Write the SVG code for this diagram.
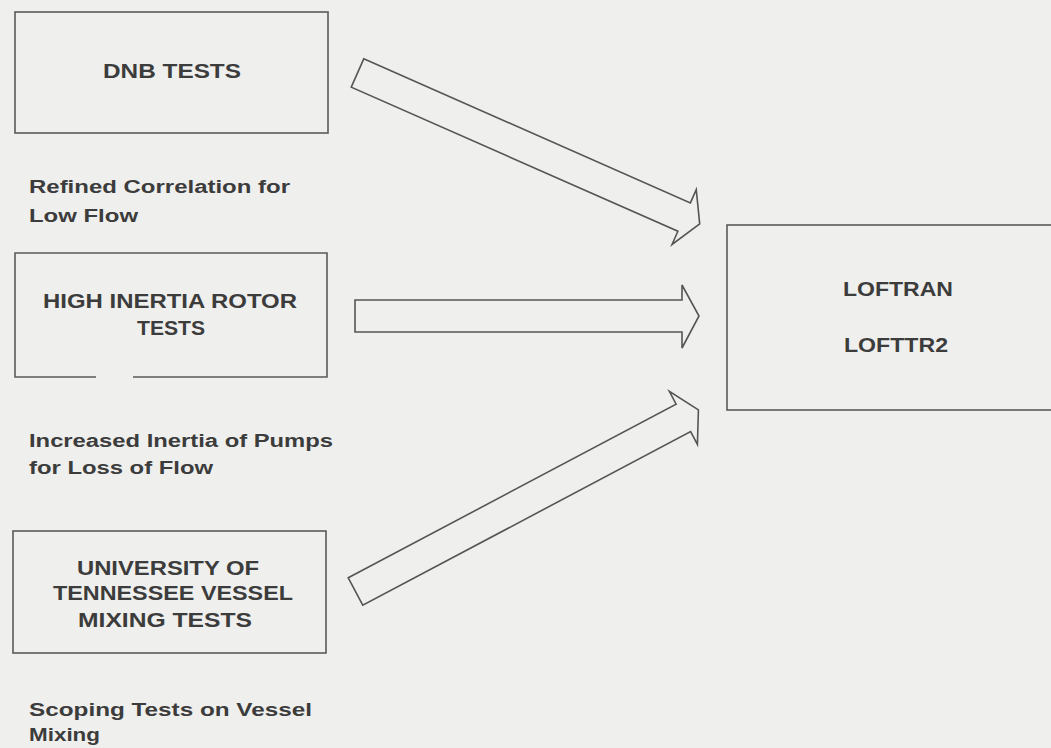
<svg xmlns="http://www.w3.org/2000/svg" width="1051" height="748" viewBox="0 0 1051 748">
  <style>
    .box { fill: none; stroke: #5a5a5a; stroke-width: 1.6; }
    .arrow { fill: #efefed; stroke: #555555; stroke-width: 1.6; stroke-linejoin: miter; }
    .head { font-family: "Liberation Sans", Arial, sans-serif; font-weight: bold; font-size: 21px; fill: #3c3c3c; }
    .note { font-family: "Liberation Sans", Arial, sans-serif; font-weight: bold; font-size: 18px; fill: #3c3c3c; }
  </style>

  <rect x="0" y="0" width="1051" height="748" fill="#efefed"/>

  <g id="dnb-tests">
    <rect class="box" x="15" y="12" width="313" height="121"/>
    <text class="head" x="103" y="78" textLength="138" lengthAdjust="spacingAndGlyphs">DNB TESTS</text>
  </g>
  <g id="dnb-note">
    <text class="note" x="29" y="193" textLength="261" lengthAdjust="spacingAndGlyphs">Refined Correlation for</text>
    <text class="note" x="29" y="222" textLength="109" lengthAdjust="spacingAndGlyphs">Low Flow</text>
  </g>

  <g id="rotor-tests">
    <!-- bottom edge is broken under the text -->
    <path class="box" d="M96,377 H15 V253 H327 V377 H133"/>
    <text class="head" x="43" y="308" textLength="254" lengthAdjust="spacingAndGlyphs">HIGH INERTIA ROTOR</text>
    <text class="head" x="137" y="335" textLength="68" lengthAdjust="spacingAndGlyphs">TESTS</text>
  </g>
  <g id="rotor-note">
    <text class="note" x="29" y="447" textLength="304" lengthAdjust="spacingAndGlyphs">Increased Inertia of Pumps</text>
    <text class="note" x="29" y="474" textLength="184" lengthAdjust="spacingAndGlyphs">for Loss of Flow</text>
  </g>

  <g id="mixing-tests">
    <rect class="box" x="13" y="531" width="313" height="122"/>
    <text class="head" x="77" y="575" textLength="182" lengthAdjust="spacingAndGlyphs">UNIVERSITY OF</text>
    <text class="head" x="53" y="600" textLength="240" lengthAdjust="spacingAndGlyphs">TENNESSEE VESSEL</text>
    <text class="head" x="78" y="627" textLength="174" lengthAdjust="spacingAndGlyphs">MIXING TESTS</text>
  </g>
  <g id="mixing-note">
    <text class="note" x="29" y="716" textLength="283" lengthAdjust="spacingAndGlyphs">Scoping Tests on Vessel</text>
    <text class="note" x="29" y="741" textLength="71" lengthAdjust="spacingAndGlyphs">Mixing</text>
  </g>

  <g id="loftran">
    <rect class="box" x="727" y="225" width="340" height="185"/>
    <text class="head" x="843" y="296" textLength="110" lengthAdjust="spacingAndGlyphs">LOFTRAN</text>
    <text class="head" x="844" y="352" textLength="104" lengthAdjust="spacingAndGlyphs">LOFTTR2</text>
  </g>

  <g id="connectors">
    <!-- DNB tests to LOFTRAN -->
    <polygon class="arrow" transform="translate(357.5,73) rotate(23.8)" points="0,-15.5 357,-15.5 357,-30 374,0 357,30 357,15.5 0,15.5"/>
    <!-- rotor tests to LOFTRAN -->
    <polygon class="arrow" transform="translate(355,316)" points="0,-16 327,-16 327,-31 344,0 327,32 327,16 0,16"/>
    <!-- vessel mixing tests to LOFTRAN -->
    <polygon class="arrow" transform="translate(355.5,591.5) rotate(-27.9)" points="0,-15.5 371,-15.5 371,-30 388,0 371,30 371,15.5 0,15.5"/>
  </g>
</svg>
